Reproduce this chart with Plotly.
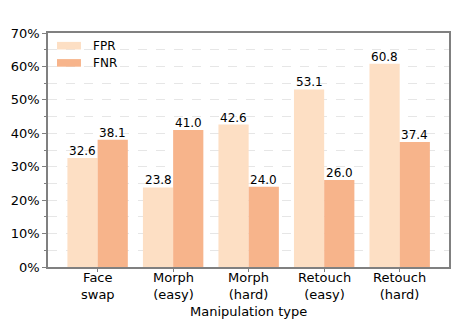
import plotly.graph_objects as go

categories = [("Face", "swap"), ("Morph", "(easy)"), ("Morph", "(hard)"), ("Retouch", "(easy)"), ("Retouch", "(hard)")]
series_names = ["FPR", "FNR"]
fpr = [32.6, 23.8, 42.6, 53.1, 60.8]
fnr = [38.1, 41.0, 24.0, 26.0, 37.4]
colors = ["#fddfc4", "#f7b48b"]
yticks = [0, 10, 20, 30, 40, 50, 60, 70]
ytick_labels = [f"{v}%" for v in yticks]
x_title = "Manipulation type"

FONT = "DejaVu Sans"
xs = list(range(len(categories)))
fig = go.Figure()
for name, vals, col in zip(series_names, [fpr, fnr], colors):
    fig.add_trace(go.Bar(x=xs, y=vals, name=name, marker=dict(color=col, line=dict(width=0)),
                         showlegend=False))

annotations = []
# value labels above bars
for k, vals in enumerate([fpr, fnr]):
    shift = -15 if k == 0 else 15
    for i, v in zip(xs, vals):
        annotations.append(dict(x=i, y=v, xref="x", yref="y", text=f"{v:.1f}", showarrow=False,
                                xshift=shift, yshift=7, xanchor="center", yanchor="middle",
                                font=dict(family=FONT, size=12, color="black")))
# two-line category labels
for i, (l1, l2) in zip(xs, categories):
    annotations.append(dict(x=i, y=-0.0791, xref="x", yref="paper", text=f"{l1}<br>{l2}",
                            showarrow=False, borderpad=0, align="center",
                            xanchor="center", yanchor="middle", font=dict(family=FONT, size=13)))
# axis title
annotations.append(dict(text=x_title, x=0.5, y=-0.1885, xref="paper", yref="paper", borderpad=0,
                        xanchor="center", yanchor="middle", showarrow=False,
                        font=dict(family=FONT, size=13)))
# legend (matplotlib-style wide patches)
shapes = []
leg_rows = [(0.9295, 0.962, 0.9457), (0.856, 0.8885, 0.8722)]
for name, col, (y0, y1, yc) in zip(series_names, colors, leg_rows):
    shapes.append(dict(type="rect", xref="paper", yref="paper", x0=0.0224, x1=0.0822, y0=y0, y1=y1,
                       fillcolor=col, line=dict(width=0)))
    annotations.append(dict(text=name, x=0.107, y=yc, xref="paper", yref="paper", xanchor="left",
                            yanchor="middle", showarrow=False, font=dict(family=FONT, size=12)))

# page body adds an 8px offset; size the figure to compensate
fig.update_layout(
    width=455, height=323,
    margin=dict(l=40, r=14, t=25, b=64, autoexpand=False),
    paper_bgcolor="white", plot_bgcolor="white",
    barmode="group", bargap=0.2, bargroupgap=0,
    font=dict(family=FONT, size=13, color="black"),
    showlegend=False,
    annotations=annotations, shapes=shapes,
)
fig.update_xaxes(
    range=[-0.657, 4.653], tickmode="array", tickvals=xs, showticklabels=False,
    showline=True, linecolor="#808080", linewidth=1.5, mirror=True, automargin=False,
    ticks="outside", ticklen=3, tickcolor="#808080", showgrid=False, zeroline=False,
)
fig.update_yaxes(
    range=[0, 70], tickmode="array", tickvals=yticks, ticktext=ytick_labels, automargin=False,
    showline=True, linecolor="#808080", linewidth=1.5, mirror=True,
    ticks="outside", ticklen=4, tickcolor="#808080",
    showgrid=True, gridcolor="#e6e6e6", griddash="dash", gridwidth=1, zeroline=False,
    minor=dict(dtick=5, ticks="outside", ticklen=2, tickcolor="#808080", showgrid=True,
               gridcolor="#e6e6e6", griddash="dash", gridwidth=1),
    tickfont=dict(family=FONT, size=13),
)
fig.write_html("out.html")
